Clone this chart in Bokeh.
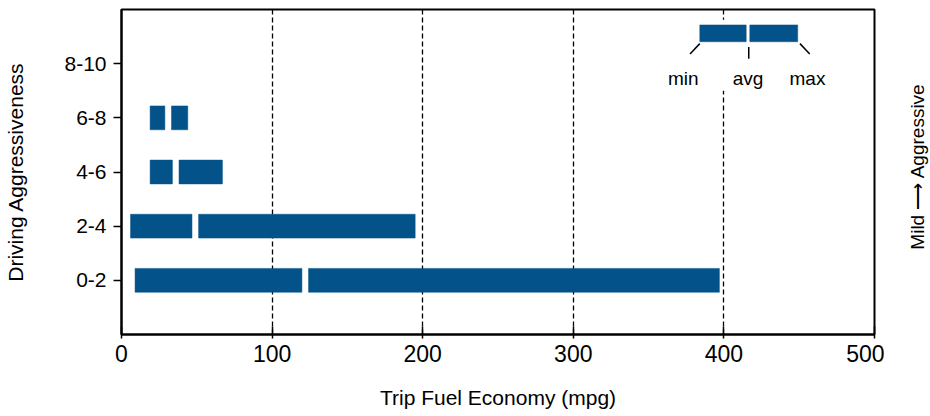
import math
import numpy as np
from bokeh.plotting import figure
from bokeh.layouts import row
from bokeh.models import FixedTicker, Label, ColumnDataSource
from bokeh.core.properties import value
from bokeh.embed import file_html
from bokeh.resources import INLINE

# ---- data ----
categories = ["0-2", "2-4", "4-6", "6-8", "8-10"]
mpg_min = [9, 6, 19, 19]
mpg_avg = [122, 49, 36, 31]
mpg_max = [397, 195, 67, 44]
x_ticks = [0, 100, 200, 300, 400, 500]

# legend sample bar (min / avg / max)
legend_min, legend_avg, legend_max = 384, 416, 449
legend_labels = ["min", "avg", "max"]

FONT = "Liberation Sans"
BLUE = "#03538a"
GAP = 2.2  # half gap between the two bar segments (mpg units)
H = 412

p = figure(width=884, height=H, x_range=(0, 500), y_range=(0, 6),
           output_backend="svg", toolbar_location=None,
           min_border_left=121, min_border_right=10,
           min_border_top=9, min_border_bottom=H - 334)

# bars
ypos = np.arange(1, len(mpg_min) + 1)
src = ColumnDataSource(dict(y=ypos, mn=mpg_min, av=mpg_avg, mx=mpg_max,
                            av_l=[a - GAP for a in mpg_avg],
                            av_r=[a + GAP for a in mpg_avg]))
p.hbar(y="y", left="mn", right="av_l", height=0.44, source=src,
       fill_color=BLUE, line_color=BLUE, line_width=0.5)
p.hbar(y="y", left="av_r", right="mx", height=0.44, source=src,
       fill_color=BLUE, line_color=BLUE, line_width=0.5)

# legend box (covers grid)
p.quad(left=[358], right=[499], bottom=[4.5], top=[5.81],
       fill_color="white", line_color=None)
ly = 5.56
p.hbar(y=[ly, ly], left=[legend_min, legend_avg + 1.2],
       right=[legend_avg - 1.2, legend_max], height=0.31,
       fill_color=BLUE, line_color=BLUE, line_width=0.5)
p.segment(x0=[legend_min - 6.5, legend_avg + 0.5, legend_max + 1.5],
          y0=[5.18, 5.09, 5.37],
          x1=[legend_min, legend_avg + 0.5, legend_max + 8],
          y1=[5.37, 5.31, 5.18],
          line_color="black", line_width=1.5)
p.text(x=[legend_min - 11, legend_avg, legend_max + 6.5], y=[4.72] * 3,
       text=legend_labels, text_font=value(FONT), text_font_size="19px",
       text_align="center", text_baseline="middle", text_color="black")

# axes
p.xaxis.ticker = FixedTicker(ticks=x_ticks)
p.xaxis.axis_label = "Trip Fuel Economy (mpg)"
p.xaxis.major_label_text_font_size = "23px"
p.xaxis.major_label_text_font = FONT
p.xaxis.major_label_text_color = "black"
p.xaxis.major_tick_in = 8
p.xaxis.major_tick_out = 4
p.xaxis.major_label_standoff = 6
p.xaxis.axis_label_standoff = 21

p.yaxis.ticker = FixedTicker(ticks=list(range(1, len(categories) + 1)))
p.yaxis.major_label_overrides = {i + 1: c for i, c in enumerate(categories)}
p.yaxis.axis_label = "Driving Aggressiveness"
p.yaxis.major_label_text_font_size = "21px"
p.yaxis.major_label_text_font = FONT
p.yaxis.major_label_text_color = "black"
p.yaxis.major_tick_in = 0
p.yaxis.major_tick_out = 8
p.yaxis.major_label_standoff = 7
p.yaxis.axis_label_standoff = 34

for ax in (p.xaxis, p.yaxis):
    ax.minor_tick_line_color = None
    ax.axis_line_color = "black"
    ax.axis_line_width = 2
    ax.major_tick_line_color = "black"
    ax.major_tick_line_width = 1.5
    ax.axis_label_text_font = FONT
    ax.axis_label_text_font_style = "normal"
    ax.axis_label_text_font_size = "21px"
    ax.axis_label_text_color = "black"

p.ygrid.grid_line_color = None
p.xgrid.grid_line_color = "black"
p.xgrid.grid_line_dash = "5 3"
p.xgrid.grid_line_width = 1.3

p.outline_line_color = "black"
p.outline_line_width = 2
p.background_fill_color = "white"
p.border_fill_color = "white"

# side note panel: "Mild -> Aggressive"
p2 = figure(width=46, height=H, x_range=(0, 46), y_range=(0, H),
            output_backend="svg", toolbar_location=None,
            min_border=0, outline_line_color=None)
p2.axis.visible = False
p2.grid.visible = False
p2.add_layout(Label(x=33, y=H - 199, text="Mild \u27f6 Aggressive", angle=math.pi / 2,
                    text_align="center", text_baseline="middle",
                    text_font=FONT, text_font_size="19px", text_color="black"))

layout = row(p, p2, spacing=0)
open("out.html", "w").write(file_html(layout, INLINE))
